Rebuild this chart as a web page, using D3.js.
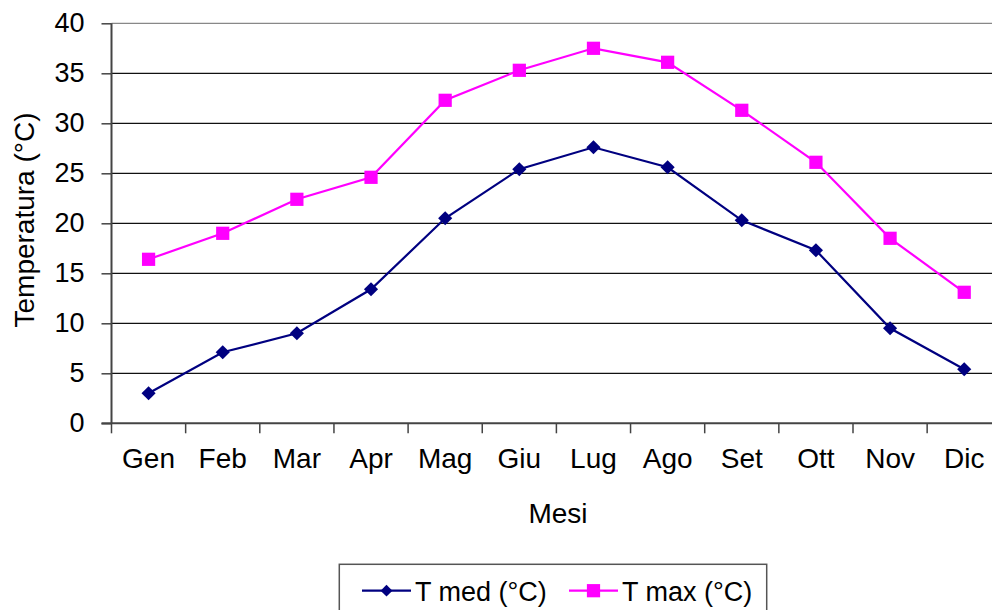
<!DOCTYPE html>
<html>
<head>
<meta charset="utf-8">
<script src="https://cdn.jsdelivr.net/npm/d3@7"></script>
<style>
  body { margin: 0; background: #fff; }
  svg { display: block; font-family: "Liberation Sans", Arial, sans-serif; }
</style>
</head>
<body>
<script>
// months and temperatures
var mesi = ['Gen', 'Feb', 'Mar', 'Apr', 'Mag', 'Giu', 'Lug', 'Ago', 'Set', 'Ott', 'Nov', 'Dic'];
var tMed = [3.0, 7.1, 9.0, 13.4, 20.5, 25.4, 27.6, 25.6, 20.3, 17.3, 9.5, 5.4];
var tMax = [16.4, 19.0, 22.4, 24.6, 32.3, 35.3, 37.5, 36.1, 31.3, 26.1, 18.5, 13.1];
var yTicks = [0, 5, 10, 15, 20, 25, 30, 35, 40];

var w = 992, h = 610;
var plotLeft = 111.5, plotRight = 1001.3, plotTop = 23.3, plotBottom = 423.3;

var svg = d3.select('body').append('svg')
            .attr('width', w)
            .attr('height', h);

var xScale = d3.scaleBand().domain(mesi).range([plotLeft, plotRight]);
var yScale = d3.scaleLinear().domain([0, 40]).range([plotBottom, plotTop]);
var cx = function(d) { return xScale(d) + xScale.bandwidth() / 2; };

// horizontal gridlines
svg.append('g')
   .selectAll('line')
   .data(yTicks.slice(1))
   .enter()
   .append('line')
   .attr('x1', plotLeft).attr('x2', w)
   .attr('y1', function(d) { return yScale(d); })
   .attr('y2', function(d) { return yScale(d); })
   .attr('stroke', function(d) { return d === 40 ? '#888' : '#111'; })
   .attr('stroke-width', 1.3);

// y axis
var yAxis = svg.append('g')
   .attr('transform', 'translate(' + plotLeft + ',0)')
   .call(d3.axisLeft(yScale).tickValues(yTicks).tickSize(10).tickPadding(17));
yAxis.select('.domain').remove();
yAxis.selectAll('.tick line').attr('stroke', '#444').attr('stroke-width', 1.5);
yAxis.selectAll('.tick text')
     .attr('font-size', 27).attr('fill', '#000')
     .attr('font-family', '"Liberation Sans", Arial, sans-serif');
svg.append('line')
   .attr('x1', plotLeft).attr('x2', plotLeft)
   .attr('y1', plotTop).attr('y2', plotBottom)
   .attr('stroke', '#444').attr('stroke-width', 2);

// x axis line + ticks at category boundaries
svg.append('line')
   .attr('x1', plotLeft - 10).attr('x2', w)
   .attr('y1', plotBottom).attr('y2', plotBottom)
   .attr('stroke', '#444').attr('stroke-width', 2);
svg.append('g')
   .selectAll('line')
   .data(mesi)
   .enter()
   .append('line')
   .attr('x1', function(d) { return xScale(d); })
   .attr('x2', function(d) { return xScale(d); })
   .attr('y1', plotBottom).attr('y2', plotBottom + 10)
   .attr('stroke', '#444').attr('stroke-width', 1.5);
svg.append('g')
   .selectAll('text')
   .data(mesi)
   .enter()
   .append('text')
   .attr('x', cx)
   .attr('y', 468)
   .attr('text-anchor', 'middle')
   .attr('font-size', 28)
   .text(function(d) { return d; });

// axis titles
svg.append('text')
   .attr('x', 558).attr('y', 523)
   .attr('text-anchor', 'middle')
   .attr('font-size', 28)
   .text('Mesi');
svg.append('text')
   .attr('transform', 'translate(34,220) rotate(-90)')
   .attr('text-anchor', 'middle')
   .attr('font-size', 28)
   .text('Temperatura (°C)');

var diamond = d3.symbol().type(d3.symbolSquare).size(100);
var square = d3.symbol().type(d3.symbolSquare).size(175);
var legDiamond = d3.symbol().type(d3.symbolSquare).size(70);

var series = [
    {name: 'T med (°C)', values: tMed, color: '#000080', marker: 'diamond'},
    {name: 'T max (°C)', values: tMax, color: '#FF00FF', marker: 'square'}
];

var line = d3.line()
             .x(function(d, i) { return cx(mesi[i]); })
             .y(function(d) { return yScale(d); });

series.forEach(function(s) {
    svg.append('path')
       .datum(s.values)
       .attr('d', line)
       .attr('fill', 'none')
       .attr('stroke', s.color)
       .attr('stroke-width', 2.2);
    svg.append('g')
       .selectAll('path')
       .data(s.values)
       .enter()
       .append('path')
       .attr('d', s.marker === 'diamond' ? diamond : square)
       .attr('transform', function(d, i) {
            return 'translate(' + cx(mesi[i]) + ',' + yScale(d) + ')' +
                   (s.marker === 'diamond' ? ' rotate(45)' : '');
       })
       .attr('fill', s.color);
});

// legend
svg.append('rect')
   .attr('x', 339.3).attr('y', 564.3)
   .attr('width', 427.4).attr('height', 60)
   .attr('fill', '#fff')
   .attr('stroke', '#555').attr('stroke-width', 1.5);
var legX = [362, 569];
series.forEach(function(s, i) {
    var g = svg.append('g').attr('transform', 'translate(' + legX[i] + ',590.7)');
    g.append('line')
     .attr('x1', 0).attr('x2', 49)
     .attr('stroke', s.color).attr('stroke-width', 2.2);
    g.append('path')
     .attr('d', s.marker === 'diamond' ? legDiamond : square)
     .attr('transform', 'translate(24.5,0)' + (s.marker === 'diamond' ? ' rotate(45)' : ''))
     .attr('fill', s.color);
    g.append('text')
     .attr('x', 53).attr('y', 10)
     .attr('font-size', 27)
     .text(s.name);
});
</script>
</body>
</html>
